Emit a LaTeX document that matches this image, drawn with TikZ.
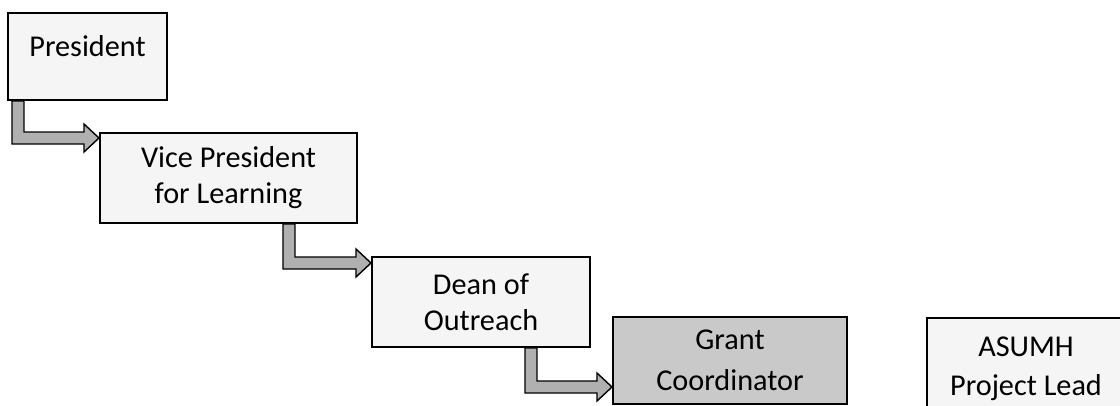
\documentclass[tikz,border=0pt]{standalone}
\usepackage{fontspec}
\setmainfont{Carlito}
\usetikzlibrary{calc}
% L-shaped block arrow from the bottom of one box to the side of the next
\newcommand{\steparrow}[2]{%
    \draw[steparrow] ($(#1)+(-6,0)$) |- ($(#2)+(-15,6)$) -- ++(0,8) -- (#2)
        -- ($(#2)+(-15,-14)$) -- ++(0,8) -| ($(#1)+(6,0)$) -- cycle;}

\begin{document}
\begin{tikzpicture}[x=0.025cm, y=-0.025cm,
    box/.style={draw, line width=1.4pt, fill=gray!8, align=center,
        font=\fontsize{21.5}{25.5}\selectfont},
    darkbox/.style={box, fill=gray!42, font=\fontsize{21.5}{29}\selectfont},
    steparrow/.style={draw, line width=1pt, fill=gray!62}]
    \clip (0,0) rectangle (1120,406);
    % Boxes
    \node[box, minimum width=3.975cm, minimum height=2.175cm, text depth=0.5cm]
        (pres) at (87.5,56.5) {President};
    \node[box, minimum width=6.425cm, minimum height=2.25cm]
        (vp) at (228.5,178) {Vice President\\for Learning};
    \node[box, minimum width=5.45cm, minimum height=2.25cm]
        (dean) at (481,302) {Dean of\\Outreach};
    \node[darkbox, minimum width=5.85cm, minimum height=2.175cm]
        (grant) at (730,360.5) {Grant\\Coordinator};
    \node[box, minimum width=4.95cm, minimum height=2.55cm,
        font=\fontsize{21.5}{28}\selectfont]
        (asumh) at (1026,369) {ASUMH\\Project Lead};
    % Arrow ends
    \coordinate (a1s) at ($(pres.south west)+(11,0)$);
    \coordinate (a1e) at ($(vp.north west)+(0,6)$);
    \coordinate (a2s) at ($(vp.south west)+(190,0)$);
    \coordinate (a2e) at ($(dean.north west)+(0,7)$);
    \coordinate (a3s) at ($(dean.south west)+(160,0)$);
    \coordinate (a3e) at ($(grant.north west)+(0,71)$);
    % Arrows
    \steparrow{a1s}{a1e}
    \steparrow{a2s}{a2e}
    \steparrow{a3s}{a3e}
\end{tikzpicture}
\end{document}
